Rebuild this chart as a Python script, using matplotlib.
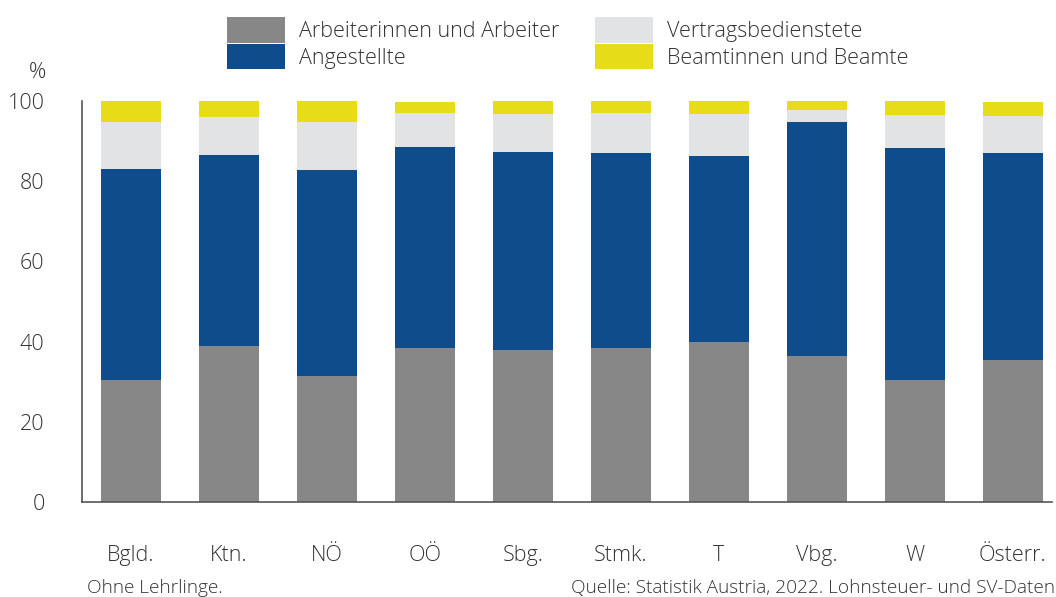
import numpy as np
import matplotlib
matplotlib.use("Agg")
import matplotlib.pyplot as plt

plt.rcParams['font.family'] = ['Open Sans', 'DejaVu Sans']
plt.rcParams['font.weight'] = 'light'

# Anteile je Bundesland in %
regionen = ['Bgld.', 'Ktn.', 'NÖ', 'OÖ', 'Sbg.', 'Stmk.', 'T', 'Vbg.', 'W', 'Österr.']
arbeiter = [30.5, 39.0, 31.3, 38.3, 38.0, 38.3, 40.0, 36.5, 30.5, 35.3]
angestellte = [52.5, 47.5, 51.5, 50.2, 49.3, 48.7, 46.3, 58.3, 57.8, 51.7]
vertragsbed = [11.8, 9.5, 12.0, 8.5, 9.5, 10.0, 10.5, 3.0, 8.2, 9.3]
beamte = [5.2, 4.0, 5.2, 2.8, 3.2, 3.0, 3.2, 2.2, 3.5, 3.5]

reihen = [
    ('Arbeiterinnen und Arbeiter', arbeiter, '#878787'),
    ('Angestellte', angestellte, '#0f4c8c'),
    ('Vertragsbedienstete', vertragsbed, '#e2e3e5'),
    ('Beamtinnen und Beamte', beamte, '#e6dc17'),
]

textfarbe = '#333333'

fig = plt.figure(figsize=(10.56, 5.97), dpi=100)
ax = fig.add_axes([82/1056, 1-502/597, 970/1056, 401/597])

x = np.arange(len(regionen))
unten = np.zeros(len(regionen))
for name, werte, farbe in reihen:
    ax.bar(x, werte, width=0.61, bottom=unten, color=farbe, label=name)
    unten += np.array(werte)

ax.set_ylim(0, 100)
ax.set_xlim(-0.5, 9.4)
ax.set_yticks([0, 20, 40, 60, 80, 100])
ax.set_xticks(x)
ax.set_xticklabels(regionen)
ax.tick_params(axis='both', length=0, labelsize=15.5, colors=textfarbe)
ax.tick_params(axis='y', pad=27)
ax.tick_params(axis='x', pad=31)
for s in ['top', 'right']:
    ax.spines[s].set_visible(False)
for s in ['left', 'bottom']:
    ax.spines[s].set_color('#555555')
    ax.spines[s].set_linewidth(1.2)

fig.text(37/1056, 1-73/597, '%', fontsize=15.5, color=textfarbe, ha='center', va='center')

handles, labels = ax.get_legend_handles_labels()
leg = fig.legend(handles, labels, ncol=2, loc='upper left',
                 bbox_to_anchor=(210/1056, 1-0/597), frameon=False,
                 fontsize=15.5, handlelength=2.7, handleheight=1.45,
                 handletextpad=0.65, columnspacing=1.65, labelspacing=0.05,
                 borderpad=0.3)
for t in leg.get_texts():
    t.set_color(textfarbe)

fig.text(87/1056, 1-588/597, 'Ohne Lehrlinge.', fontsize=13.7, color=textfarbe,
         ha='left', va='center')
fig.text(1055/1056, 1-588/597, 'Quelle: Statistik Austria, 2022. Lohnsteuer- und SV-Daten',
         fontsize=13.7, color=textfarbe, ha='right', va='center')

fig.savefig('out.png', dpi=100)
